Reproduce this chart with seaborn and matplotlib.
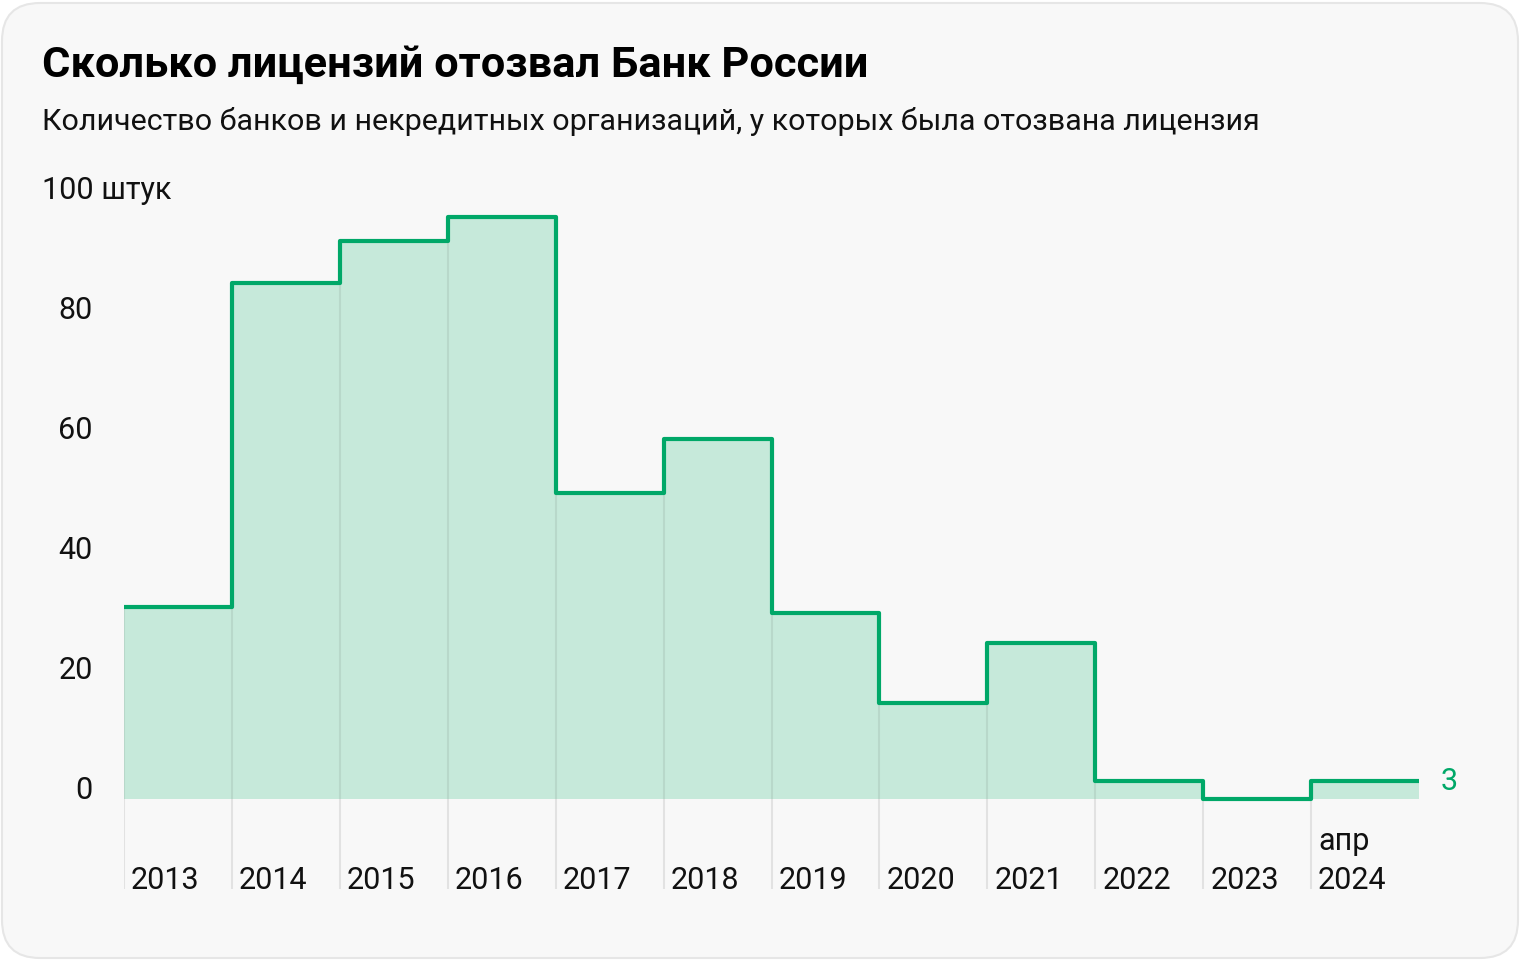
import numpy as np
import pandas as pd
import matplotlib.pyplot as plt
import seaborn as sns
from matplotlib.patches import FancyBboxPatch

# Revoked licences per year
years = ['2013', '2014', '2015', '2016', '2017', '2018', '2019', '2020', '2021', '2022', '2023', 'апр\n2024']
revoked = [32, 86, 93, 97, 51, 60, 31, 16, 26, 3, 0, 3]
y_ticks = [0, 20, 40, 60, 80]

green = '#00a868'
fill_green = '#c6e9da'
bg = '#f8f8f8'

sns.set_theme(style='white')
plt.rcParams['font.family'] = ['Roboto', 'DejaVu Sans']

fig = plt.figure(figsize=(15.2, 9.6), dpi=100)
fig.patch.set_facecolor('white')
card = FancyBboxPatch((2 / 1520, 2 / 960), 1516 / 1520, 955 / 960,
                      boxstyle='round,pad=0,rounding_size=0.025',
                      transform=fig.transFigure, facecolor=bg,
                      edgecolor='#e6e6e6', linewidth=1.5, mutation_aspect=1520 / 960,
                      zorder=-10)
fig.patches.append(card)

ax = fig.add_axes([124 / 1520, (960 - 889) / 960, (1419 - 124) / 1520, 690 / 960])
ax.set_facecolor('none')
ax.set_zorder(5)

edges = np.arange(len(revoked) + 1)
df = pd.DataFrame({'edge': edges, 'value': revoked + [revoked[-1]]})

ax.fill_between(df['edge'], 0, df['value'], step='post', color=fill_green, linewidth=0, zorder=1)

# vertical separators, clipped at the taller neighbour
for i in range(len(revoked)):
    top = max(revoked[i], revoked[i - 1] if i > 0 else 0)
    ax.vlines(i, -15, 0, color='#e2e2e2', linewidth=1.5, zorder=0)
    ax.vlines(i, 0, top, color='#000000', alpha=0.07, linewidth=1.5, zorder=2)

sns.lineplot(data=df, x='edge', y='value', drawstyle='steps-post', color=green,
             linewidth=3, ax=ax, zorder=3)

ax.set_xlim(0, 12)
ax.set_ylim(-15, 100)
for s in ax.spines.values():
    s.set_visible(False)
ax.set_xticks([])
ax.set_yticks([])
ax.set_xlabel('')
ax.set_ylabel('')

fs = 22
for t in y_ticks:
    ax.text(-0.29, t, str(t), ha='right', va='baseline', fontsize=fs, color='#111111')
ax.text(-0.76, 100, '100 штук', ha='left', va='baseline', fontsize=fs, color='#111111')

for i, lab in enumerate(years):
    ax.text(i + 0.065, -15, lab, ha='left', va='baseline', fontsize=fs, color='#111111',
            linespacing=1.45)

ax.text(12.2, revoked[-1], str(revoked[-1]), ha='left', va='center', fontsize=fs, color=green)

fig.text(42 / 1520, 1 - 65 / 960, 'Сколько лицензий отозвал Банк России', ha='left', va='center',
         fontsize=31.2, fontweight='bold', color='#000000')
fig.text(42 / 1520, 1 - 121 / 960,
         'Количество банков и некредитных организаций, у которых была отозвана лицензия',
         ha='left', va='center', fontsize=21.9, color='#111111')

fig.savefig('out.png', dpi=100, facecolor=fig.get_facecolor())
